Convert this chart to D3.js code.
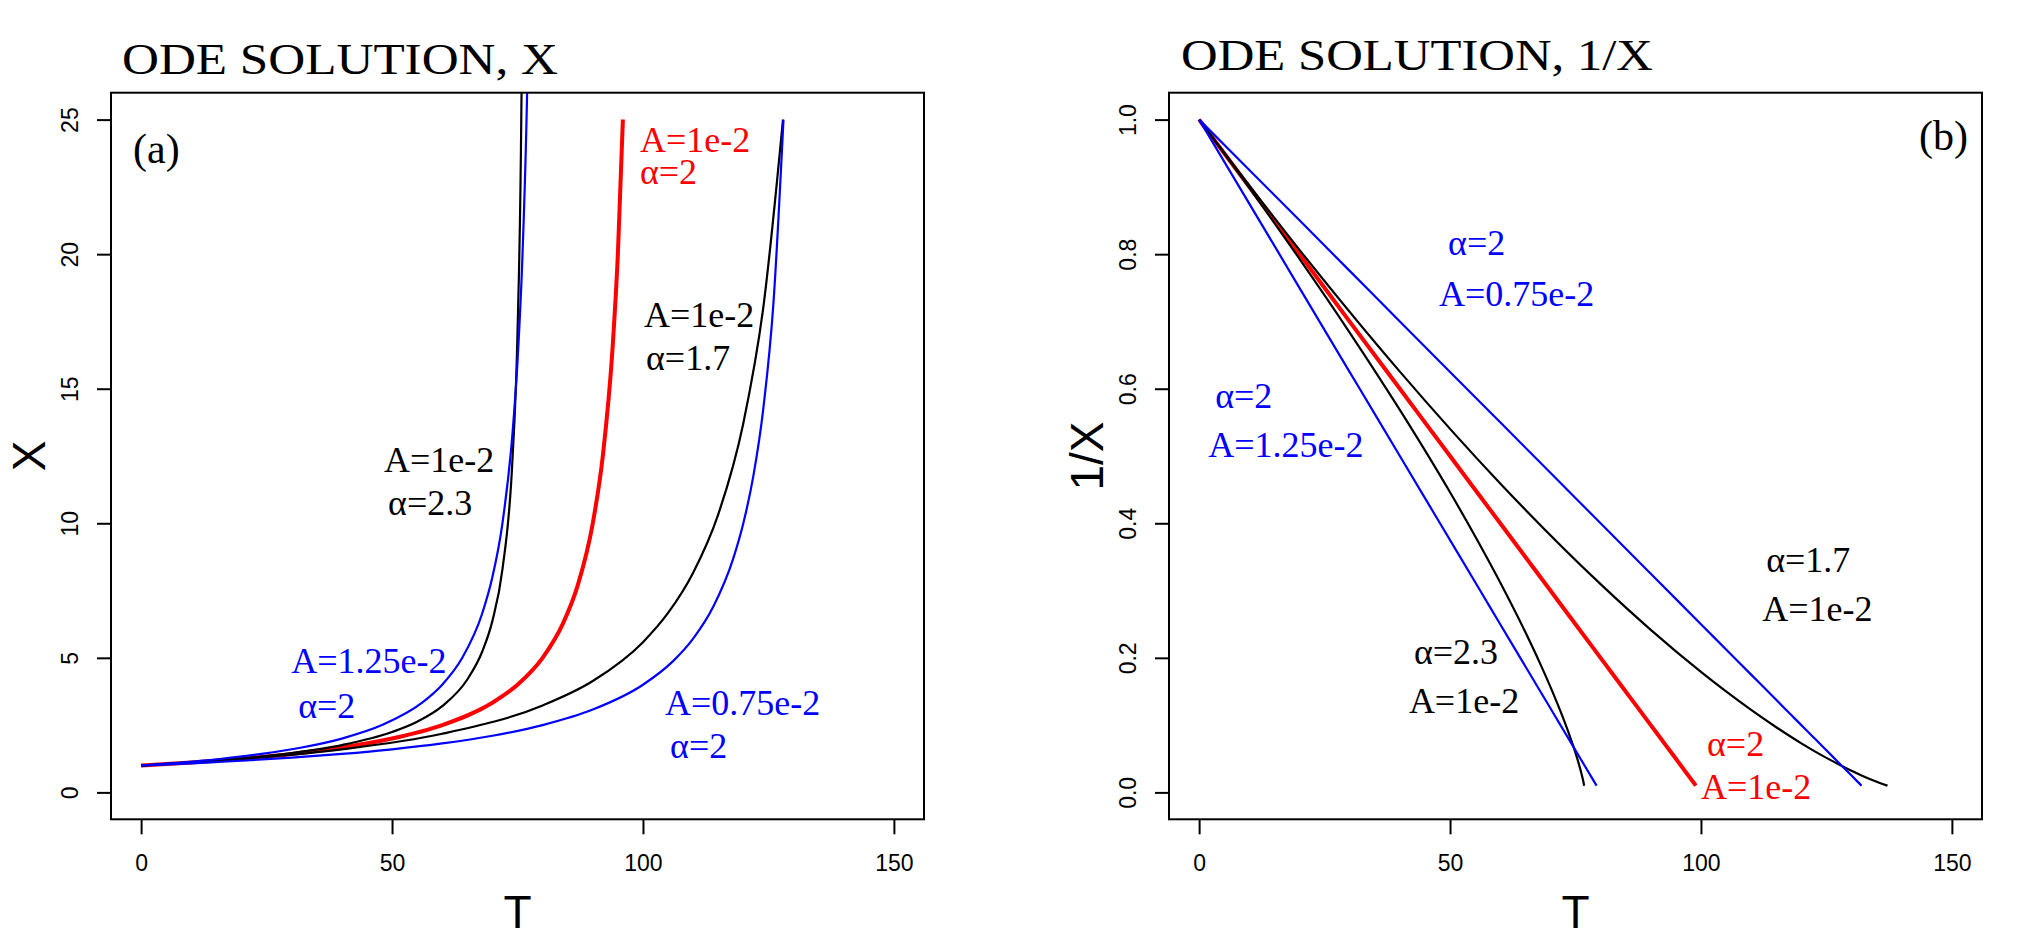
<!DOCTYPE html>
<html>
<head>
<meta charset="utf-8">
<script src="https://cdn.jsdelivr.net/npm/d3@7"></script>
<style>
  body { margin: 0; background: #fff; }
</style>
</head>
<body>
<svg id="chart" width="2044" height="934"></svg>
<script>
// ---- data (T, X); panel (b) shows 1/X of the same curves ----
const tRed = [0, 10, 20, 30, 40, 50, 60, 70, 75, 80, 84, 87, 90, 92, 94, 95, 96, 97, 98, 99];
const xRed = [1, 1.111, 1.25, 1.429, 1.667, 2, 2.5, 3.333, 4, 5, 6.25, 7.692, 10, 12.5, 16.67, 20, 25, 33.33, 50, 100];

const tBlack23 = [0, 10, 20, 30, 40, 50, 55, 60, 65, 68, 70, 72, 74, 75, 75.75, 76.2, 76.5, 76.73];
const xBlack23 = [1, 1.113, 1.261, 1.463, 1.759, 2.242, 2.626, 3.205, 4.196, 5.244, 6.373, 8.285, 12.38, 17.06, 25, 36.2, 54.6, 100];

const tBlack17 = [0, 20, 40, 60, 80, 90, 100, 105, 110, 115, 120, 124, 127.9, 130, 132, 134, 135.5, 137.17];
const xBlack17 = [1, 1.240, 1.599, 2.178, 3.231, 4.139, 5.583, 6.667, 8.163, 10.33, 13.72, 18.05, 25, 31.2, 39.7, 53.2, 69.4, 100];

const tBlueFast = [0, 8, 16, 24, 32, 40, 48, 56, 60, 64, 68, 70, 72, 74, 75, 76, 76.8, 77.6, 78.4, 79.2];
const xBlueFast = [1, 1.111, 1.25, 1.429, 1.667, 2, 2.5, 3.333, 4, 5, 6.667, 8, 10, 13.33, 16, 20, 25, 33.33, 50, 100];

const tBlueSlow = [0, 10, 20, 30, 40, 50, 60, 70, 80, 90, 100, 106, 110, 114, 118, 120, 122, 124, 126, 128, 129, 130, 131, 132];
const xBlueSlow = [1, 1.081, 1.176, 1.290, 1.429, 1.6, 1.818, 2.105, 2.5, 3.077, 4, 4.878, 5.714, 6.897, 8.696, 10, 11.76, 14.29, 18.18, 25, 30.77, 40, 57.14, 100];

// panel (a) stops some curves at X = 25
const endInA = [25, null, 25, null, 25];

const tTicks = [0, 50, 100, 150];
const xTicksA = [0, 5, 10, 15, 20, 25];
const yTicksB = [0, 0.2, 0.4, 0.6, 0.8, 1.0];

// annotations: [T, value, text, colour]
const notesA = [
  [99.4, 23.8, "A=1e-2", "red"], [99.4, 22.6, "α=2", "red"],
  [100.2, 17.3, "A=1e-2", "black"], [100.6, 15.7, "α=1.7", "black"],
  [48.4, 11.9, "A=1e-2", "black"], [49.2, 10.3, "α=2.3", "black"],
  [29.9, 4.44, "A=1.25e-2", "blue"], [31.3, 2.76, "α=2", "blue"],
  [104.4, 2.88, "A=0.75e-2", "blue"], [105.4, 1.28, "α=2", "blue"]
];
const notesB = [
  [49.6, 0.799, "α=2", "blue"], [47.8, 0.723, "A=0.75e-2", "blue"],
  [3.2, 0.571, "α=2", "blue"], [1.8, 0.499, "A=1.25e-2", "blue"],
  [113.0, 0.328, "α=1.7", "black"], [112.2, 0.255, "A=1e-2", "black"],
  [42.8, 0.191, "α=2.3", "black"], [41.8, 0.118, "A=1e-2", "black"],
  [101.2, 0.054, "α=2", "red"], [100.0, -0.010, "A=1e-2", "red"]
];

const series = [
  { t: tRed, x: xRed, color: "#ff0000", width: 4 },
  { t: tBlack23, x: xBlack23, color: "#000", width: 2.2 },
  { t: tBlack17, x: xBlack17, color: "#000", width: 2.2 },
  { t: tBlueFast, x: xBlueFast, color: "#0000ff", width: 2.2 },
  { t: tBlueSlow, x: xBlueSlow, color: "#0000ff", width: 2.2 }
];

const svg = d3.select("#chart");
const plotTop = 92.7, plotBottom = 819.3, boxW = 813;
const serif = "'Liberation Serif', 'Times New Roman', serif";
const sans = "'Liberation Sans', Arial, sans-serif";

const panels = [
  { key: "a", left: 111, yDomain: [-1, 26], yTicks: xTicksA, fmt: d3.format("d"),
    title: "ODE SOLUTION, X", titleX: 122, titleY: 74, titleLen: 436, yLabel: "X", notes: notesA,
    value: (d) => d, tag: "(a)" },
  { key: "b", left: 1169, yDomain: [-0.04, 1.04], yTicks: yTicksB, fmt: d3.format(".1f"),
    title: "ODE SOLUTION, 1/X", titleX: 1181, titleY: 70, titleLen: 472, yLabel: "1/X", notes: notesB,
    value: (d) => 1 / d, tag: "(b)" }
];

panels.forEach(p => {
  const x = d3.scaleLinear().domain([-6, 156]).range([p.left, p.left + boxW]);
  const y = d3.scaleLinear().domain(p.yDomain).range([plotBottom, plotTop]);
  const g = svg.append("g");

  g.append("clipPath").attr("id", "clip-" + p.key)
    .append("rect").attr("x", p.left).attr("y", plotTop).attr("width", boxW).attr("height", plotBottom - plotTop);

  // curves
  const line = d3.line().x(d => x(d[0])).y(d => y(d[1])).curve(d3.curveMonotoneX);
  const lines = g.append("g").attr("clip-path", `url(#clip-${p.key})`);
  series.forEach((s, i) => {
    let pts = s.t.map((t, j) => [t, s.x[j]]);
    if (p.key === "a" && endInA[i] !== null) pts = pts.filter(d => d[1] <= endInA[i]);
    pts = pts.map(d => [d[0], p.value(d[1])]);
    lines.append("path")
      .attr("d", line(pts))
      .attr("fill", "none")
      .attr("stroke", s.color)
      .attr("stroke-width", s.width)
      .attr("stroke-linejoin", "round");
  });

  // axes
  const xa = g.append("g").attr("transform", `translate(0,${plotBottom})`)
    .call(d3.axisBottom(x).tickValues(tTicks).tickSize(15).tickSizeOuter(0));
  xa.select(".domain").remove();
  xa.selectAll("line").attr("stroke", "#000").attr("stroke-width", 2);
  xa.selectAll("text").attr("y", 52).attr("dy", 0)
    .style("font-family", sans).style("font-size", "23px").attr("fill", "#000");

  const ya = g.append("g").attr("transform", `translate(${p.left},0)`)
    .call(d3.axisLeft(y).tickValues(p.yTicks).tickFormat(p.fmt).tickSize(14).tickSizeOuter(0));
  ya.select(".domain").remove();
  ya.selectAll("line").attr("stroke", "#000").attr("stroke-width", 2);
  ya.selectAll("text")
    .attr("x", 0).attr("y", 0).attr("dy", 0)
    .attr("transform", "translate(-33,0) rotate(-90)")
    .attr("text-anchor", "middle")
    .style("font-family", sans).style("font-size", "23px").attr("fill", "#000");

  // box
  g.append("rect")
    .attr("x", p.left).attr("y", plotTop).attr("width", boxW).attr("height", plotBottom - plotTop)
    .attr("fill", "none").attr("stroke", "#000").attr("stroke-width", 2);

  // titles
  g.append("text")
    .attr("x", p.titleX).attr("y", p.titleY)
    .attr("textLength", p.titleLen).attr("lengthAdjust", "spacingAndGlyphs")
    .style("font-family", serif).style("font-size", "45px")
    .text(p.title);

  g.append("text")
    .attr("x", p.left + boxW / 2).attr("y", 928)
    .attr("text-anchor", "middle")
    .style("font-family", sans).style("font-size", "46px")
    .text("T");

  g.append("text")
    .attr("transform", `translate(${p.left - 66},456) rotate(-90)`)
    .attr("text-anchor", "middle")
    .style("font-family", sans).style("font-size", "46px")
    .text(p.yLabel);

  // panel tag
  if (p.key === "a") {
    g.append("text").attr("x", 133).attr("y", 163)
      .style("font-family", serif).style("font-size", "42px").text(p.tag);
  } else {
    g.append("text").attr("x", 1968).attr("y", 150).attr("text-anchor", "end")
      .style("font-family", serif).style("font-size", "42px").text(p.tag);
  }

  // curve labels
  g.selectAll(".note").data(p.notes).enter().append("text")
    .attr("class", "note")
    .attr("x", d => x(d[0])).attr("y", d => y(d[1]))
    .attr("fill", d => d[3])
    .style("font-family", serif).style("font-size", "36px")
    .text(d => d[2]);
});
</script>
</body>
</html>
